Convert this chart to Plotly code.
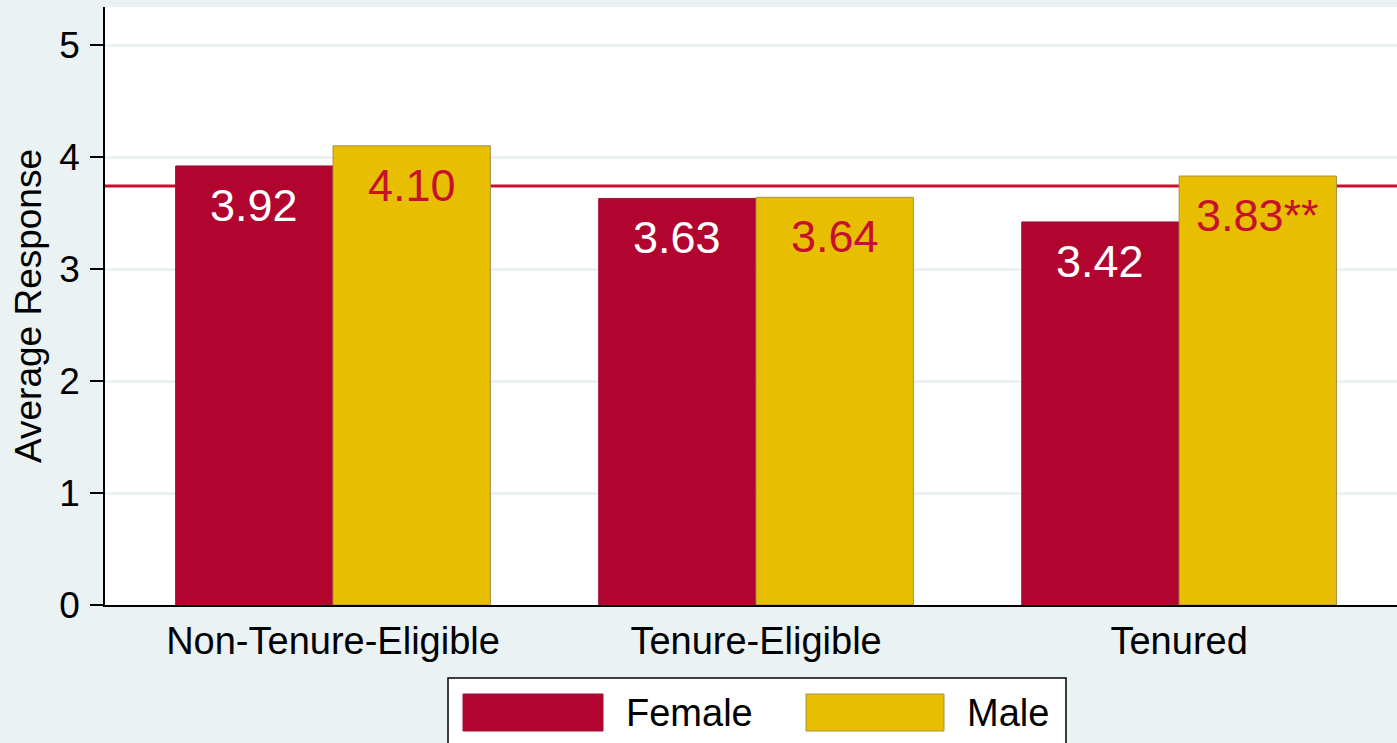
import plotly.graph_objects as go

categories = ["Non-Tenure-Eligible", "Tenure-Eligible", "Tenured"]
series_names = ["Female", "Male"]
female_values = [3.92, 3.63, 3.42]
male_values = [4.10, 3.64, 3.83]
female_labels = ["3.92", "3.63", "3.42"]
male_labels = ["4.10", "3.64", "3.83**"]
overall_mean = 3.74
y_ticks = [0, 1, 2, 3, 4, 5]

FONT = "Liberation Sans, Arial, sans-serif"
BG = "#EAF2F3"
FEMALE = "#B10530"
MALE = "#E7BE00"
LABEL_RED = "#C8102E"

W, H = 1397, 743
ML, MR, MT, MB = 105, 0, 7, 138
PW, PH = W - ML - MR, H - MT - MB

def px_x(px):
    return (px - ML) / PW

def px_y(py):
    return (H - MB - py) / PH

bw = 0.372
xs = list(range(len(categories)))

fig = go.Figure()
fig.add_trace(go.Bar(
    x=xs, y=female_values, name=series_names[0], width=bw, offset=-bw,
    marker=dict(color=FEMALE, line=dict(color="#9E1036", width=1)),
    showlegend=False,
))
fig.add_trace(go.Bar(
    x=xs, y=male_values, name=series_names[1], width=bw, offset=0,
    marker=dict(color=MALE, line=dict(color="#A8914A", width=1)),
    showlegend=False,
))

for i, (v, t) in enumerate(zip(female_values, female_labels)):
    fig.add_annotation(x=i - bw / 2, y=v, text=t, showarrow=False,
                       yanchor="top", yshift=-12,
                       font=dict(family=FONT, size=45, color="white"))
for i, (v, t) in enumerate(zip(male_values, male_labels)):
    fig.add_annotation(x=i + bw / 2, y=v, text=t, showarrow=False,
                       yanchor="top", yshift=-12,
                       font=dict(family=FONT, size=45, color=LABEL_RED))

# reference line (overall mean)
fig.add_shape(type="line", xref="paper", yref="y", x0=0, x1=1,
              y0=overall_mean, y1=overall_mean,
              line=dict(color="#C8102E", width=3), layer="between")

# manual legend
fig.add_shape(type="rect", xref="paper", yref="paper",
              x0=px_x(448), x1=px_x(1066), y0=px_y(760), y1=px_y(678),
              line=dict(color="black", width=1.5), fillcolor="white", layer="above")
fig.add_shape(type="rect", xref="paper", yref="paper",
              x0=px_x(463), x1=px_x(603), y0=px_y(731), y1=px_y(694),
              line=dict(color="#9E1036", width=1), fillcolor=FEMALE, layer="above")
fig.add_shape(type="rect", xref="paper", yref="paper",
              x0=px_x(806), x1=px_x(944), y0=px_y(731), y1=px_y(694),
              line=dict(color="#A8914A", width=1), fillcolor=MALE, layer="above")
fig.add_annotation(xref="paper", yref="paper", x=px_x(624), y=px_y(713),
                   xanchor="left", yanchor="middle", text=series_names[0],
                   showarrow=False, font=dict(family=FONT, size=38, color="black"))
fig.add_annotation(xref="paper", yref="paper", x=px_x(965), y=px_y(713),
                   xanchor="left", yanchor="middle", text=series_names[1],
                   showarrow=False, font=dict(family=FONT, size=38, color="black"))

fig.update_layout(
    width=W, height=H,
    margin=dict(l=ML, r=MR, t=MT, b=MB, pad=0),
    paper_bgcolor=BG, plot_bgcolor="white",
    font=dict(family=FONT, size=37, color="black"),
    barmode="overlay",
    showlegend=False,
)
fig.update_xaxes(
    range=[-0.539, 2.515], tickvals=xs, ticktext=categories,
    showgrid=False, zeroline=False, showline=True, linecolor="black", linewidth=1.5,
    ticks="", tickfont=dict(size=38), ticklabelstandoff=2,
)
fig.update_yaxes(
    range=[0, PH / 112.0], tickvals=y_ticks, showgrid=True, gridcolor=BG, gridwidth=2.5,
    zeroline=False, showline=True, linecolor="black", linewidth=1.5,
    ticks="outside", ticklen=13, tickwidth=1.5, tickcolor="black",
    tickfont=dict(size=37), ticklabelstandoff=3,
    title=dict(text="Average Response", font=dict(size=37), standoff=6),
)

fig.write_html(
    "out.html",
    config={"displayModeBar": False},
    post_script="document.body.style.margin='0';document.body.style.overflow='hidden';",
)
